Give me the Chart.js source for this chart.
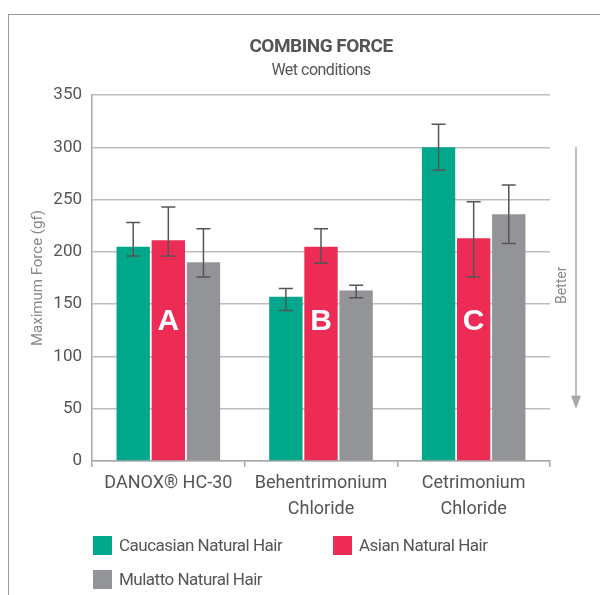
<!DOCTYPE html>
<html>
<head>
<meta charset="utf-8">
<script src="https://cdn.jsdelivr.net/npm/chart.js@4"></script>
<style>
  body { margin: 0; background: #fff; }
  #wrap { position: relative; width: 600px; height: 595px; overflow: hidden; }
  #frame { position: absolute; left: 8px; top: 14px; width: 600px; height: 600px;
           border-top: 1px solid #9a9a9a; border-left: 1px solid #9a9a9a; }
  canvas { position: absolute; left: 0; top: 0; }
  .legend { position: absolute; font-family: Roboto, sans-serif; letter-spacing: -0.5px;
            font-size: 17px; color: #555; display: flex; align-items: center; }
  .legend span.box { width: 19px; height: 19px; margin-right: 7px; display: inline-block; }
</style>
</head>
<body>
<div id="wrap">
  <div id="frame"></div>
  <canvas id="combingChart" width="600" height="595"></canvas>
  <div id="legend"></div>
</div>
<script>
// 製品カテゴリ
const categories = [['DANOX\u00AE HC-30'], ['Behentrimonium', 'Chloride'], ['Cetrimonium', 'Chloride']];
const seriesNames = ['Caucasian Natural Hair', 'Asian Natural Hair', 'Mulatto Natural Hair'];
const seriesColors = ['#00a78b', '#ec2c54', '#939497'];

// 値 (gf)
const caucasian = [205, 157, 300];
const asian = [211, 205, 213];
const mulatto = [190, 163, 236];

// エラーバー (下限・上限)
const caucasianLow = [196, 144, 278];
const caucasianHigh = [228, 165, 322];
const asianLow = [196, 189, 176];
const asianHigh = [243, 222, 248];
const mulattoLow = [176, 156, 208];
const mulattoHigh = [222, 168, 264];

const groupLetters = ['A', 'B', 'C'];
const yTicks = [0, 50, 100, 150, 200, 250, 300, 350];

const FONT = "Roboto, sans-serif";
const lows = [caucasianLow, asianLow, mulattoLow];
const highs = [caucasianHigh, asianHigh, mulattoHigh];

// エラーバー・文字・矢印の描画
const extrasPlugin = {
    id: 'extras',
    afterDatasetsDraw(chart) {
        const ctx = chart.ctx;
        const y = chart.scales.y;
        const area = chart.chartArea;

        // エラーバー
        ctx.save();
        ctx.strokeStyle = '#555';
        ctx.lineWidth = 1.5;
        chart.data.datasets.forEach((ds, di) => {
            const meta = chart.getDatasetMeta(di);
            meta.data.forEach((bar, i) => {
                const yl = y.getPixelForValue(lows[di][i]);
                const yh = y.getPixelForValue(highs[di][i]);
                const cap = 7;
                ctx.beginPath();
                ctx.moveTo(bar.x, yl); ctx.lineTo(bar.x, yh);
                ctx.moveTo(bar.x - cap, yl); ctx.lineTo(bar.x + cap, yl);
                ctx.moveTo(bar.x - cap, yh); ctx.lineTo(bar.x + cap, yh);
                ctx.stroke();
            });
        });
        ctx.restore();

        // A / B / C
        ctx.save();
        ctx.fillStyle = '#fff';
        ctx.font = 'bold 30px "Liberation Sans", Arial, sans-serif';
        ctx.textAlign = 'center';
        ctx.textBaseline = 'middle';
        chart.getDatasetMeta(1).data.forEach((bar, i) => {
            ctx.fillText(groupLetters[i], bar.x, y.getPixelForValue(133));
        });
        ctx.restore();

        // タイトル
        ctx.save();
        const cx = (area.left + area.right) / 2;
        ctx.textAlign = 'center';
        ctx.textBaseline = 'middle';
        ctx.fillStyle = '#555';
        ctx.letterSpacing = '-0.5px';
        ctx.font = 'bold 19px ' + FONT;
        ctx.fillText('COMBING FORCE', cx, 47);
        ctx.font = '16px ' + FONT;
        ctx.fillText('Wet conditions', cx, 71);
        ctx.restore();

        // Better 矢印
        ctx.save();
        const ax = 576;
        const aTop = y.getPixelForValue(300);
        const aBot = y.getPixelForValue(50);
        ctx.strokeStyle = '#a8a8a8';
        ctx.fillStyle = '#a8a8a8';
        ctx.lineWidth = 1.5;
        ctx.beginPath();
        ctx.moveTo(ax, aTop); ctx.lineTo(ax, aBot - 10);
        ctx.stroke();
        ctx.beginPath();
        ctx.moveTo(ax - 5, aBot - 13); ctx.lineTo(ax + 5, aBot - 13); ctx.lineTo(ax, aBot);
        ctx.closePath();
        ctx.fill();
        ctx.translate(562, y.getPixelForValue(168));
        ctx.rotate(-Math.PI / 2);
        ctx.fillStyle = '#888';
        ctx.font = '14px ' + FONT;
        ctx.textAlign = 'center';
        ctx.textBaseline = 'middle';
        ctx.fillText('Better', 0, 0);
        ctx.restore();
    }
};

const chartCanvas = document.getElementById('combingChart');
new Chart(chartCanvas, {
    type: 'bar',
    data: {
        labels: categories,
        datasets: [caucasian, asian, mulatto].map((vals, i) => ({
            label: seriesNames[i],
            data: vals,
            backgroundColor: seriesColors[i],
            borderWidth: 0,
            categoryPercentage: 0.69,
            barPercentage: 0.95
        }))
    },
    options: {
        responsive: false,
        animation: false,
        layout: { padding: { left: 20, right: 50, top: 95, bottom: 0 } },
        plugins: {
            legend: { display: false },
            tooltip: { enabled: false }
        },
        scales: {
            x: {
                afterFit: s => { s.height = 134; },
                grid: {
                    offset: true,
                    drawOnChartArea: false,
                    color: '#a8a8a8',
                    tickLength: 6,
                    lineWidth: 1.5
                },
                border: { color: '#a8a8a8', width: 1.5 },
                ticks: {
                    color: '#555',
                    font: { family: FONT, size: 18, lineHeight: 1.45 },
                    padding: 3
                }
            },
            y: {
                min: 0,
                max: 350,
                afterFit: s => { s.width = 72; },
                afterBuildTicks: s => { s.ticks = yTicks.map(v => ({ value: v })); },
                grid: { color: '#bdbdbd', lineWidth: 1.5, drawTicks: false },
                border: { color: '#a8a8a8', width: 1.5 },
                ticks: {
                    color: '#555',
                    font: { family: FONT, size: 17 },
                    padding: 10
                },
                title: {
                    display: true,
                    text: 'Maximum Force (gf)',
                    color: '#888',
                    font: { family: FONT, size: 15 },
                    padding: { top: 9, bottom: 0 }
                }
            }
        }
    },
    plugins: [extrasPlugin]
});

// 凡例
const legendPos = [[93, 535], [333, 535], [93, 569]];
const legendEl = document.getElementById('legend');
seriesNames.forEach((name, i) => {
    const item = document.createElement('div');
    item.className = 'legend';
    item.style.left = legendPos[i][0] + 'px';
    item.style.top = legendPos[i][1] + 'px';
    const box = document.createElement('span');
    box.className = 'box';
    box.style.background = seriesColors[i];
    item.appendChild(box);
    item.appendChild(document.createTextNode(name));
    legendEl.appendChild(item);
});
</script>
</body>
</html>
